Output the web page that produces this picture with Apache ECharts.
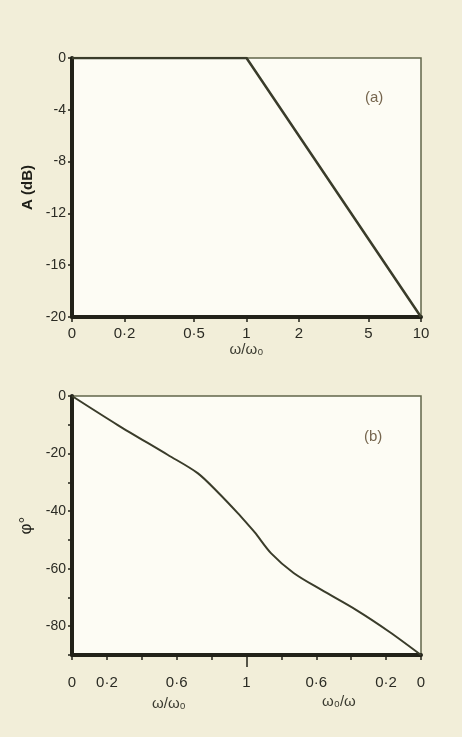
<!DOCTYPE html>
<html>
<head>
<meta charset="utf-8">
<script src="https://cdn.jsdelivr.net/npm/echarts@6/dist/echarts.min.js"></script>
<style>
    html, body { margin: 0; padding: 0; background: #f2eed9; }
    #main { width: 462px; height: 737px; }
</style>
</head>
<body>
<div id="main"></div>
<script>
// (a) amplitude: w/w0 on a log axis, "0" is drawn at 0.1
const ampFreq = [0.1, 1, 10];
const ampDb = [0, 0, -20];
const ampTicks = [0.1, 0.2, 0.5, 1, 2, 5, 10];
const ampTickLabels = ["0", "0·2", "0·5", "1", "2", "5", "10"];

// (b) phase: x runs 0..1 as w/w0, then 1..2 as w0/w going back to 0
const phaseX = [0, 0.26, 0.55, 0.72, 0.84, 0.95, 1.01, 1.05, 1.14, 1.27, 1.43, 1.63, 1.82, 2];
const phaseDeg = [0, -10, -20.5, -26.8, -33.7, -40.7, -44.8, -47.6, -54.6, -61.5, -67.4, -74.4, -82, -90];
const phaseTickLabels = { "0": "0", "0.2": "0·2", "0.6": "0·6", "1": "1", "1.4": "0·6", "1.8": "0·2", "2": "0" };

const ink = "#222219";
const lineColor = "#3a3c2a";
const labelColor = "#2b2b24";
const font = "Liberation Sans";

let chart = echarts.init(document.getElementById("main"));

const option = {
    backgroundColor: "#f2eed9",
    animation: false,
    textStyle: { fontFamily: font },
    grid: [
        { left: 72, right: 41, top: 58, height: 259, show: true, backgroundColor: "#fdfcf4", borderColor: "#62654a", borderWidth: 1.5 },
        { left: 72, right: 41, top: 396, height: 259, show: true, backgroundColor: "#fdfcf4", borderColor: "#62654a", borderWidth: 1.5 }
    ],
    xAxis: [
        {
            gridIndex: 0,
            type: "log",
            logBase: 10,
            min: 0.1,
            max: 10,
            name: "ω/ω₀",
            nameLocation: "middle",
            nameGap: 24,
            nameTextStyle: { fontSize: 15, color: "#3a3a30", fontFamily: font },
            axisLine: { onZero: false, lineStyle: { color: ink, width: 4 } },
            axisTick: { customValues: ampTicks, length: 5, lineStyle: { color: ink, width: 1.5 } },
            axisLabel: {
                customValues: ampTicks,
                margin: 9,
                fontSize: 15,
                color: labelColor,
                formatter: function(v) {
                    let i = ampTicks.findIndex(t => Math.abs(t - v) < 1e-6);
                    return i >= 0 ? ampTickLabels[i] : "";
                }
            },
            splitLine: { show: false },
            minorTick: { show: false }
        },
        {
            gridIndex: 1,
            type: "value",
            min: 0,
            max: 2,
            interval: 0.2,
            axisLine: { onZero: false, lineStyle: { color: ink, width: 4 } },
            axisTick: { length: 5, lineStyle: { color: ink, width: 1.5 } },
            axisLabel: {
                margin: 20,
                fontSize: 15,
                color: labelColor,
                formatter: function(v) {
                    let k = String(Math.round(v * 10) / 10);
                    return phaseTickLabels[k] || "";
                }
            },
            splitLine: { show: false }
        },
        {
            // longer tick at 1 on the phase axis
            gridIndex: 1,
            type: "value",
            min: 0,
            max: 2,
            position: "bottom",
            axisLine: { show: false, onZero: false },
            axisTick: { customValues: [1], length: 12, lineStyle: { color: ink, width: 1.5 } },
            axisLabel: { show: false },
            splitLine: { show: false }
        }
    ],
    yAxis: [
        {
            gridIndex: 0,
            type: "value",
            min: -20,
            max: 0,
            interval: 4,
            name: "A (dB)",
            nameLocation: "middle",
            nameGap: 29,
            nameTextStyle: { fontSize: 15, fontWeight: "bold", color: "#1e1e18", fontFamily: font },
            axisLine: { onZero: false, lineStyle: { color: ink, width: 4 } },
            axisTick: { length: 4, lineStyle: { color: ink, width: 1.5 } },
            axisLabel: { margin: 6, fontSize: 14, color: labelColor },
            splitLine: { show: false }
        },
        {
            gridIndex: 1,
            type: "value",
            min: -90,
            max: 0,
            interval: 10,
            name: "φ°",
            nameLocation: "middle",
            nameGap: 32,
            nameTextStyle: { fontSize: 17, color: "#1e1e18", fontFamily: font },
            axisLine: { onZero: false, lineStyle: { color: ink, width: 4 } },
            axisTick: { length: 4, lineStyle: { color: ink, width: 1.5 } },
            axisLabel: {
                margin: 6,
                fontSize: 14,
                color: labelColor,
                formatter: function(v) {
                    return v % 20 === 0 ? String(v) : "";
                }
            },
            splitLine: { show: false }
        }
    ],
    graphic: [
        { type: "text", left: 365, top: 90, style: { text: "(a)", fontSize: 15, fill: "#76664e", fontFamily: font } },
        { type: "text", left: 364, top: 429, style: { text: "(b)", fontSize: 15, fill: "#76664e", fontFamily: font } },
        { type: "text", left: 152, top: 696, style: { text: "ω/ω₀", fontSize: 15, fill: "#3a3a30", fontFamily: font } },
        { type: "text", left: 322, top: 694, style: { text: "ω₀/ω", fontSize: 15, fill: "#3a3a30", fontFamily: font } }
    ],
    series: [
        {
            name: "amplitude",
            type: "line",
            xAxisIndex: 0,
            yAxisIndex: 0,
            data: ampFreq.map((f, i) => [f, ampDb[i]]),
            showSymbol: false,
            lineStyle: { color: lineColor, width: 2.5 }
        },
        {
            name: "phase",
            type: "line",
            xAxisIndex: 1,
            yAxisIndex: 1,
            data: phaseX.map((x, i) => [x, phaseDeg[i]]),
            smooth: 0.3,
            showSymbol: false,
            lineStyle: { color: lineColor, width: 2 }
        }
    ]
};

chart.setOption(option);
</script>
</body>
</html>
